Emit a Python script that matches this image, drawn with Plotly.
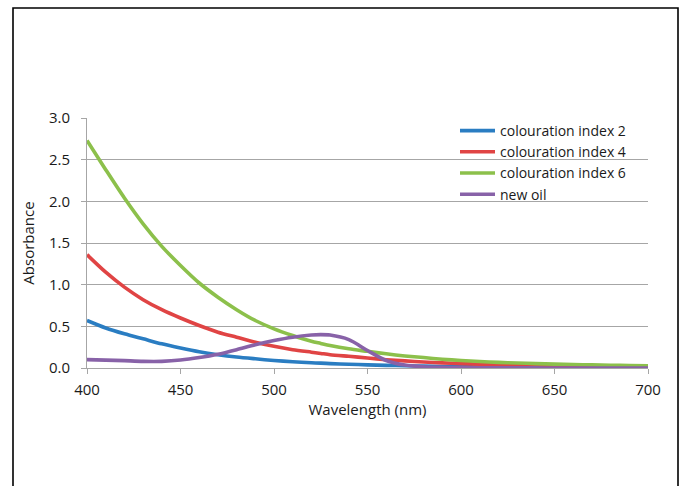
import plotly.graph_objects as go

wavelength = [400, 410, 420, 430, 440, 450, 460, 470, 480, 490, 500, 510, 520, 525, 530, 540, 550,
              560, 570, 580, 590, 600, 610, 620, 630, 640, 650, 660, 670, 680, 690, 700]

ci2 = [0.57, 0.48, 0.41, 0.35, 0.29, 0.24, 0.195, 0.16, 0.132, 0.11, 0.09, 0.075, 0.063, 0.058, 0.053, 0.045, 0.038,
       0.032, 0.027, 0.022, 0.018, 0.015, 0.012, 0.010, 0.008, 0.007, 0.006, 0.005, 0.004, 0.004, 0.003, 0.003]
ci4 = [1.36, 1.15, 0.97, 0.82, 0.70, 0.60, 0.51, 0.43, 0.37, 0.31, 0.26, 0.22, 0.19, 0.175, 0.16, 0.14, 0.12,
       0.10, 0.085, 0.072, 0.062, 0.053, 0.045, 0.038, 0.032, 0.027, 0.023, 0.020, 0.017, 0.014, 0.012, 0.010]
ci6 = [2.73, 2.38, 2.04, 1.73, 1.46, 1.23, 1.02, 0.85, 0.70, 0.57, 0.47, 0.39, 0.32, 0.295, 0.27, 0.23, 0.20,
       0.17, 0.145, 0.125, 0.105, 0.09, 0.078, 0.068, 0.060, 0.053, 0.047, 0.042, 0.037, 0.033, 0.029, 0.025]
new_oil = [0.10, 0.095, 0.088, 0.08, 0.08, 0.095, 0.125, 0.165, 0.22, 0.28, 0.33, 0.37, 0.395, 0.40, 0.395, 0.34, 0.21,
           0.09, 0.035, 0.015, 0.008, 0.005, 0.003, 0.002, 0.001, 0.001, 0.0, 0.0, 0.0, 0.0, 0.0, 0.0]

series_names = ["colouration index 2", "colouration index 4", "colouration index 6", "new oil"]
series_values = [ci2, ci4, ci6, new_oil]
colors = ["#2a7dc2", "#e04444", "#8cc04b", "#8862a8"]

x_ticks = [400, 450, 500, 550, 600, 650, 700]
y_ticks = [0.0, 0.5, 1.0, 1.5, 2.0, 2.5, 3.0]

FONT = "Open Sans"

fig = go.Figure()
for name, vals, col in zip(series_names, series_values, colors):
    fig.add_trace(go.Scatter(x=wavelength, y=vals, mode="lines", name=name,
                             line=dict(color=col, width=3.6, shape="spline", smoothing=0.8)))

# target screen positions (body margin removed below)
L, R, T, B = 87, 648, 118, 368
W, H = 685, 486
PW, PH = R - L, B - T

def px(xs):
    return (xs - L) / PW

def py(ys):
    return (B - ys) / PH

fig.update_layout(
    width=W, height=H,
    margin=dict(l=L, r=W - R, t=T, b=H - B, pad=0),
    paper_bgcolor="white", plot_bgcolor="white",
    font=dict(family=FONT, size=15, color="#1a1a1a"),
    showlegend=True,
    legend=dict(x=px(455), y=py(115), xanchor="left", yanchor="top",
                bgcolor="rgba(0,0,0,0)", font=dict(family=FONT, size=14, color="#1a1a1a"),
                itemwidth=35, tracegroupgap=0),
    xaxis=dict(range=[400, 700], tickvals=x_ticks, ticktext=[str(v) for v in x_ticks],
               showgrid=False, zeroline=False, showline=True, linecolor="#a6a6a6", linewidth=1,
               ticks="outside", ticklen=5, tickcolor="#a6a6a6", ticklabelstandoff=3,
               title=dict(text="Wavelength (nm)", standoff=4, font=dict(size=15))),
    yaxis=dict(range=[0, 3.0], tickvals=y_ticks, ticktext=[f"{v:.1f}" for v in y_ticks],
               showgrid=True, gridcolor="#a6a6a6", gridwidth=1, zeroline=False,
               showline=True, linecolor="#a6a6a6", linewidth=1,
               ticks="outside", ticklen=5, tickcolor="#a6a6a6", ticklabelstandoff=8,
               title=dict(text="Absorbance", standoff=10, font=dict(size=15))),
)

# white legend background panel (covers gridline behind the legend)
fig.add_shape(type="rect", xref="paper", yref="paper",
              x0=px(447), x1=px(648), y0=py(199), y1=py(120),
              line=dict(width=0), fillcolor="white", layer="between")

# outer frame
fig.add_shape(type="rect", xref="paper", yref="paper",
              x0=px(13), x1=px(678), y0=py(500), y1=py(8),
              line=dict(color="black", width=1.6), fillcolor="rgba(0,0,0,0)", layer="below")

fig.write_html("out.html", config={"displayModeBar": False},
               post_script="document.body.style.margin='0';document.body.style.overflow='hidden';")
